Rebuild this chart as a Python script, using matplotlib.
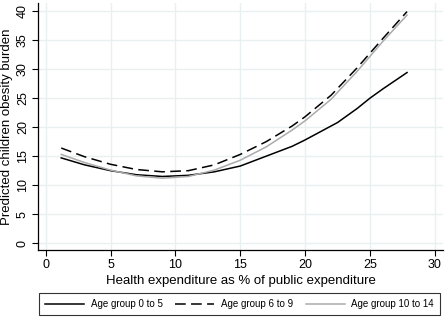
import matplotlib
matplotlib.use("Agg")
import matplotlib.pyplot as plt

plt.rcParams['font.family'] = ['Liberation Sans', 'DejaVu Sans']

x_0to5 = [1.2, 3, 5, 7, 9, 11, 13, 15, 17, 19, 20, 21, 22.5, 24, 25, 26, 27.85]
y_0to5 = [14.7, 13.5, 12.5, 11.8, 11.5, 11.7, 12.3, 13.3, 15.0, 16.7, 17.8, 19.0, 20.8, 23.2, 25.0, 26.6, 29.4]

x_6to9 = [1.2, 3, 5, 7, 9, 11, 13, 15, 17, 19, 20, 22, 24, 26, 27.85]
y_6to9 = [16.4, 14.9, 13.6, 12.7, 12.3, 12.5, 13.5, 15.3, 17.5, 20.2, 21.8, 25.5, 30.2, 35.3, 39.9]

x_10to14 = [1.2, 3, 5, 7, 9, 11, 13, 15, 17, 19, 20, 22, 24, 26, 27.85]
y_10to14 = [15.3, 13.9, 12.6, 11.6, 11.2, 11.5, 12.6, 14.3, 16.6, 19.5, 21.1, 24.8, 29.6, 34.8, 39.3]

labels = ["Age group 0 to 5", "Age group 6 to 9", "Age group 10 to 14"]
xticks = [0, 5, 10, 15, 20, 25, 30]
yticks = [0, 5, 10, 15, 20, 25, 30, 35, 40]

fig = plt.figure(figsize=(4.47, 3.2), dpi=100)
ax = fig.add_axes([0.085, 0.219, 0.906, 0.772])

grid_col = '#e8f0f2'
l1, = ax.plot(x_0to5, y_0to5, color='black', lw=1.1, label=labels[0])
l2, = ax.plot(x_6to9, y_6to9, color='black', lw=1.1, dashes=(7, 3.5), label=labels[1])
l3, = ax.plot(x_10to14, y_10to14, color='#ababab', lw=1.1, label=labels[2])

ax.set_xlim(-0.59, 30.62)
ax.set_ylim(-1.15, 41.4)
ax.set_xticks(xticks)
ax.set_yticks(yticks)
ax.grid(True, color=grid_col, lw=1.0)
ax.set_axisbelow(True)
for s in ['top', 'right']:
    ax.spines[s].set_visible(False)
for s in ['left', 'bottom']:
    ax.spines[s].set_linewidth(0.9)
ax.tick_params(direction='out', length=4, width=0.8, labelsize=9, pad=2.5)
for lab in ax.get_yticklabels():
    lab.set_rotation(90)
    lab.set_va('center')
ax.set_xlabel("Health expenditure as % of public expenditure", fontsize=9.5, labelpad=3)
ax.set_ylabel("Predicted children obesity burden", fontsize=9.5, labelpad=3)

leg = fig.legend(handles=[l1, l2, l3], labels=labels, ncol=3, loc='center',
                 bbox_to_anchor=(0.536, 0.05), fontsize=7, frameon=True,
                 fancybox=False, edgecolor='black', handlelength=4.0,
                 columnspacing=1.3, handletextpad=0.7, borderpad=0.6,
                 borderaxespad=0)
leg.get_frame().set_linewidth(0.8)

fig.savefig("out.png", dpi=100)
